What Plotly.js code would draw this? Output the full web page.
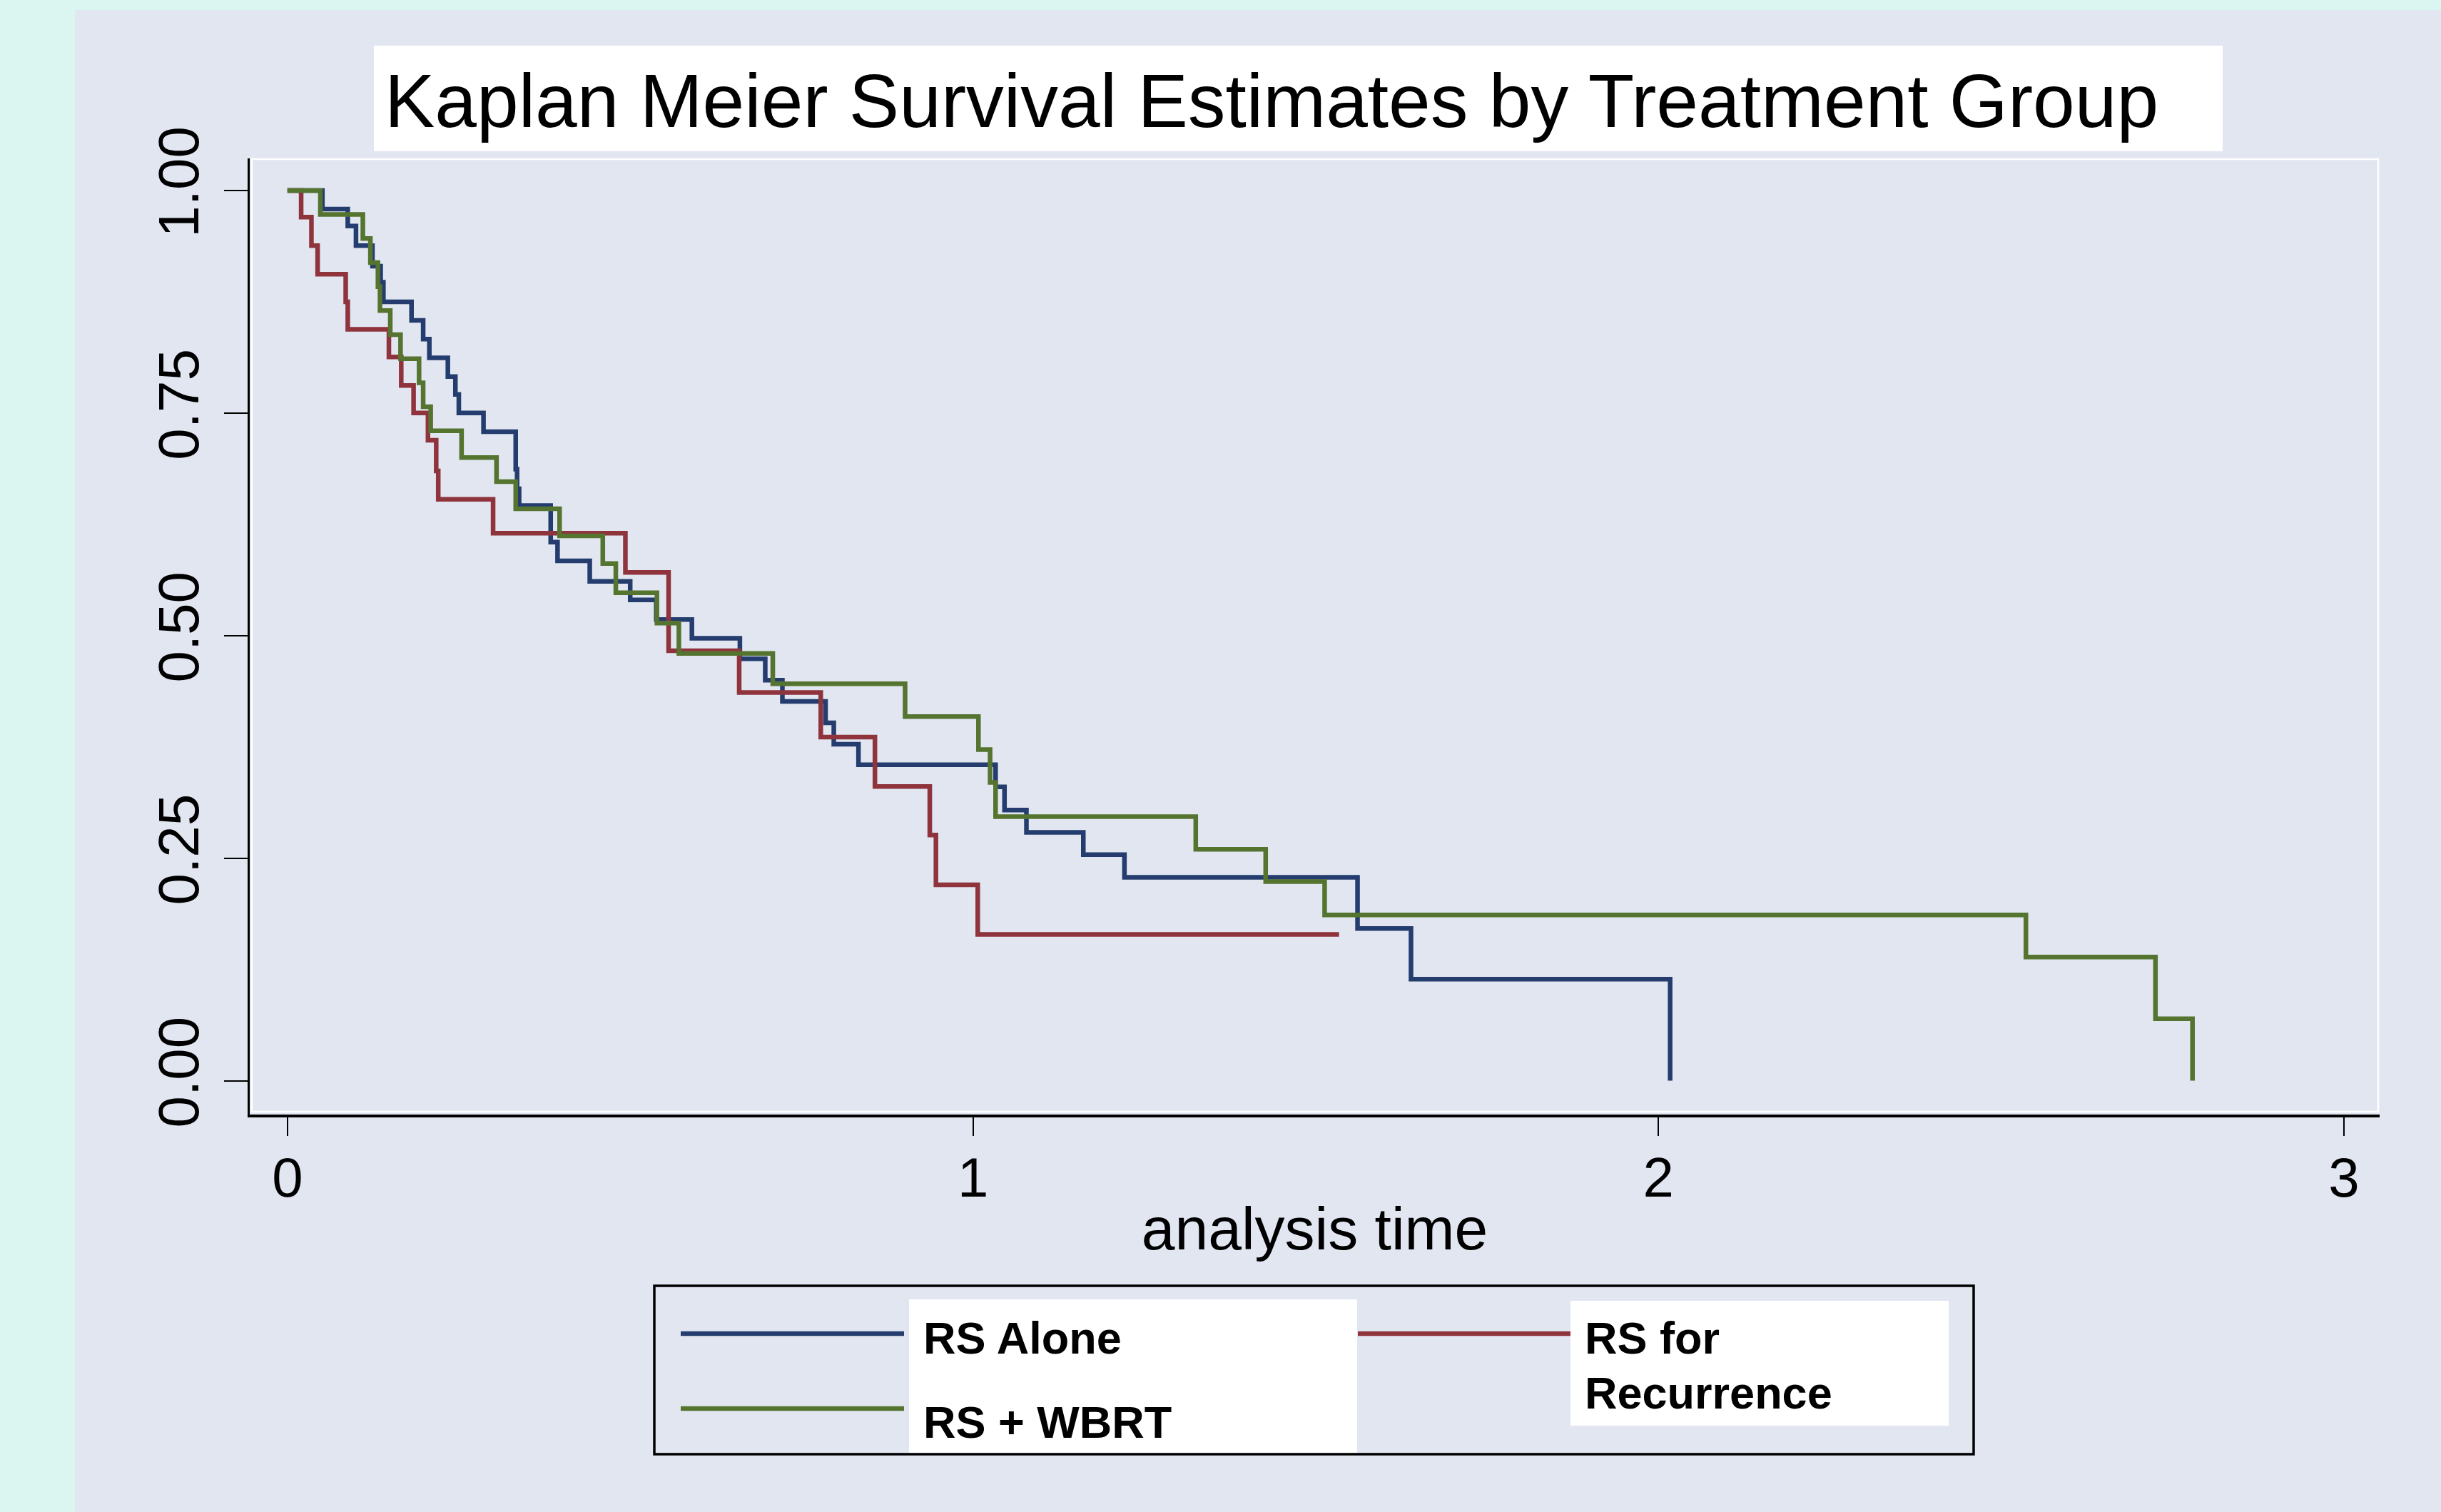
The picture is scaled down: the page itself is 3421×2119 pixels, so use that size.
<!DOCTYPE html>
<html><head><meta charset="utf-8">
<script src="https://cdn.plot.ly/plotly-3.0.1.min.js"></script>
<style>html,body{margin:0;padding:0;background:#E1E6F1;} #chart{width:3421px;height:2119px;}</style>
</head><body><div id="chart"></div>
<script>
// ---- data ----
const seriesNames = ['RS Alone', 'RS for Recurrence', 'RS + WBRT'];
const seriesColors = ['#243D6E', '#8F343D', '#55742F'];

const timeRSAlone = [0, 0.051, 0.088, 0.100, 0.124, 0.136, 0.140, 0.181, 0.198, 0.207, 0.234, 0.245, 0.250, 0.286, 0.333, 0.335, 0.338, 0.384, 0.394, 0.441, 0.500, 0.538, 0.590, 0.660, 0.697, 0.722, 0.785, 0.797, 0.833, 1.033, 1.046, 1.078, 1.161, 1.221, 1.561, 1.639, 2.017];
const survRSAlone = [1.000, 0.979, 0.960, 0.938, 0.915, 0.897, 0.875, 0.854, 0.833, 0.812, 0.791, 0.771, 0.750, 0.729, 0.687, 0.665, 0.646, 0.605, 0.584, 0.561, 0.540, 0.518, 0.497, 0.474, 0.450, 0.426, 0.402, 0.378, 0.355, 0.330, 0.304, 0.279, 0.254, 0.2285, 0.171, 0.114, 0.000];

const timeRSRecurrence = [0, 0.020, 0.035, 0.044, 0.085, 0.088, 0.148, 0.166, 0.184, 0.205, 0.217, 0.220, 0.300, 0.493, 0.556, 0.659, 0.778, 0.857, 0.937, 0.946, 1.007, 1.534];
const survRSRecurrence = [1.000, 0.970, 0.938, 0.906, 0.875, 0.844, 0.813, 0.781, 0.750, 0.7195, 0.685, 0.653, 0.615, 0.571, 0.483, 0.436, 0.386, 0.3305, 0.276, 0.220, 0.1644, 0.1644];

const timeRSWBRT = [0, 0.048, 0.110, 0.121, 0.132, 0.135, 0.150, 0.165, 0.192, 0.198, 0.209, 0.254, 0.305, 0.333, 0.397, 0.460, 0.479, 0.539, 0.571, 0.708, 0.901, 1.008, 1.025, 1.033, 1.325, 1.427, 1.513, 2.536, 2.725, 2.779];
const survRSWBRT = [1.000, 0.973, 0.946, 0.919, 0.892, 0.865, 0.838, 0.811, 0.784, 0.757, 0.730, 0.700, 0.673, 0.6425, 0.612, 0.581, 0.548, 0.514, 0.480, 0.446, 0.409, 0.372, 0.335, 0.2966, 0.260, 0.2237, 0.1863, 0.139, 0.0696, 0.000];

const xTickVals = [0, 1, 2, 3];
const xTickText = ['0', '1', '2', '3'];
const yTickVals = [0, 0.25, 0.5, 0.75, 1];
const yTickText = ['0.00', '0.25', '0.50', '0.75', '1.00'];

const chartTitle = 'Kaplan Meier Survival Estimates by Treatment Group';
const xTitle = 'analysis time';

// ---- layout helpers ----
const W = 3421, H = 2119, L = 350, R = 86, T = 222, B = 557;
const pw = W - L - R, ph = H - T - B;
const px = X => (X - L) / pw;
const py = Y => (H - B - Y) / ph;
const BG = '#E1E6F1', CYAN = '#DBF5F1';
const FONT = 'Liberation Sans, Arial, sans-serif';

const seriesData = [
  [timeRSAlone, survRSAlone],
  [timeRSRecurrence, survRSRecurrence],
  [timeRSWBRT, survRSWBRT]
];

const traces = seriesData.map((d, i) => ({
  type: 'scatter', mode: 'lines',
  x: d[0], y: d[1], name: seriesNames[i],
  line: {shape: 'hv', color: seriesColors[i], width: 6.5},
  showlegend: false, hoverinfo: 'skip'
}));

const shapes = [
  // outer cyan strips
  {type: 'rect', xref: 'paper', yref: 'paper', x0: px(0), x1: px(105), y0: py(H), y1: py(0), fillcolor: CYAN, line: {width: 0}, layer: 'below'},
  {type: 'rect', xref: 'paper', yref: 'paper', x0: px(0), x1: px(W), y0: py(14), y1: py(0), fillcolor: CYAN, line: {width: 0}, layer: 'below'},
  // title box
  {type: 'rect', xref: 'paper', yref: 'paper', x0: px(524), x1: px(3115), y0: py(212), y1: py(64), fillcolor: '#FFFFFF', line: {width: 0}, layer: 'below'},
  // white plot-region frame
  {type: 'rect', xref: 'paper', yref: 'paper', x0: px(353), x1: px(3333), y0: py(1558), y1: py(223), fillcolor: 'rgba(0,0,0,0)', line: {color: '#FFFFFF', width: 2.5}, layer: 'below'},
  // legend frame
  {type: 'rect', xref: 'paper', yref: 'paper', x0: px(917), x1: px(2766), y0: py(2038), y1: py(1802), fillcolor: 'rgba(0,0,0,0)', line: {color: '#000000', width: 3.5}, layer: 'above'},
  // legend label boxes
  {type: 'rect', xref: 'paper', yref: 'paper', x0: px(1274), x1: px(1902), y0: py(2036), y1: py(1821), fillcolor: '#FFFFFF', line: {width: 0}, layer: 'above'},
  {type: 'rect', xref: 'paper', yref: 'paper', x0: px(2201), x1: px(2731), y0: py(1998), y1: py(1823), fillcolor: '#FFFFFF', line: {width: 0}, layer: 'above'},
  // legend swatches
  {type: 'line', xref: 'paper', yref: 'paper', x0: px(954), x1: px(1267), y0: py(1869), y1: py(1869), line: {color: seriesColors[0], width: 6.5}, layer: 'above'},
  {type: 'line', xref: 'paper', yref: 'paper', x0: px(1903), x1: px(2201), y0: py(1869), y1: py(1869), line: {color: seriesColors[1], width: 6.5}, layer: 'above'},
  {type: 'line', xref: 'paper', yref: 'paper', x0: px(954), x1: px(1267), y0: py(1974), y1: py(1974), line: {color: seriesColors[2], width: 6.5}, layer: 'above'}
];

const legFont = {family: FONT, size: 63, color: '#000000', weight: 'bold'};
const annotations = [
  {text: '<b>' + seriesNames[0] + '</b>', x: px(1292), y: py(1875), xanchor: 'left', yanchor: 'middle'},
  {text: '<b>' + seriesNames[2] + '</b>', x: px(1292), y: py(1993), xanchor: 'left', yanchor: 'middle'},
  {text: '<b>RS for</b>', x: px(2219), y: py(1875), xanchor: 'left', yanchor: 'middle'},
  {text: '<b>Recurrence</b>', x: px(2219), y: py(1952), xanchor: 'left', yanchor: 'middle'}
].map(a => Object.assign({xref: 'paper', yref: 'paper', showarrow: false, font: legFont}, a));

const layout = {
  width: W, height: H,
  margin: {l: L, r: R, t: T, b: B, pad: 0},
  paper_bgcolor: BG, plot_bgcolor: BG,
  font: {family: FONT, color: '#000000'},
  title: {
    text: chartTitle,
    font: {family: FONT, size: 105.5, color: '#000000'},
    xref: 'container', x: 1782 / W, xanchor: 'center',
    yref: 'container', y: 1 - 141 / H, yanchor: 'middle'
  },
  xaxis: {
    range: [-0.055, 3.052], tickvals: xTickVals, ticktext: xTickText,
    ticks: 'outside', ticklen: 26, tickwidth: 2, tickcolor: '#000000',
    showline: true, linecolor: '#000000', linewidth: 3.5,
    showgrid: false, zeroline: false, automargin: false,
    tickfont: {family: FONT, size: 78, color: '#000000'},
    ticklabelstandoff: -8,
    title: {text: xTitle, font: {family: FONT, size: 84, color: '#000000'}, standoff: 0}
  },
  yaxis: {
    range: [-0.038, 1.036], tickvals: yTickVals, ticktext: yTickText,
    tickangle: -90,
    ticks: 'outside', ticklen: 33, tickwidth: 2, tickcolor: '#000000',
    showline: true, linecolor: '#000000', linewidth: 3.5,
    showgrid: false, zeroline: false, automargin: false,
    tickfont: {family: FONT, size: 80, color: '#000000'},
    ticklabelstandoff: 4
  },
  shapes: shapes,
  annotations: annotations,
  showlegend: false
};

Plotly.newPlot('chart', traces, layout, {staticPlot: true, displayModeBar: false});
</script>
</body></html>
